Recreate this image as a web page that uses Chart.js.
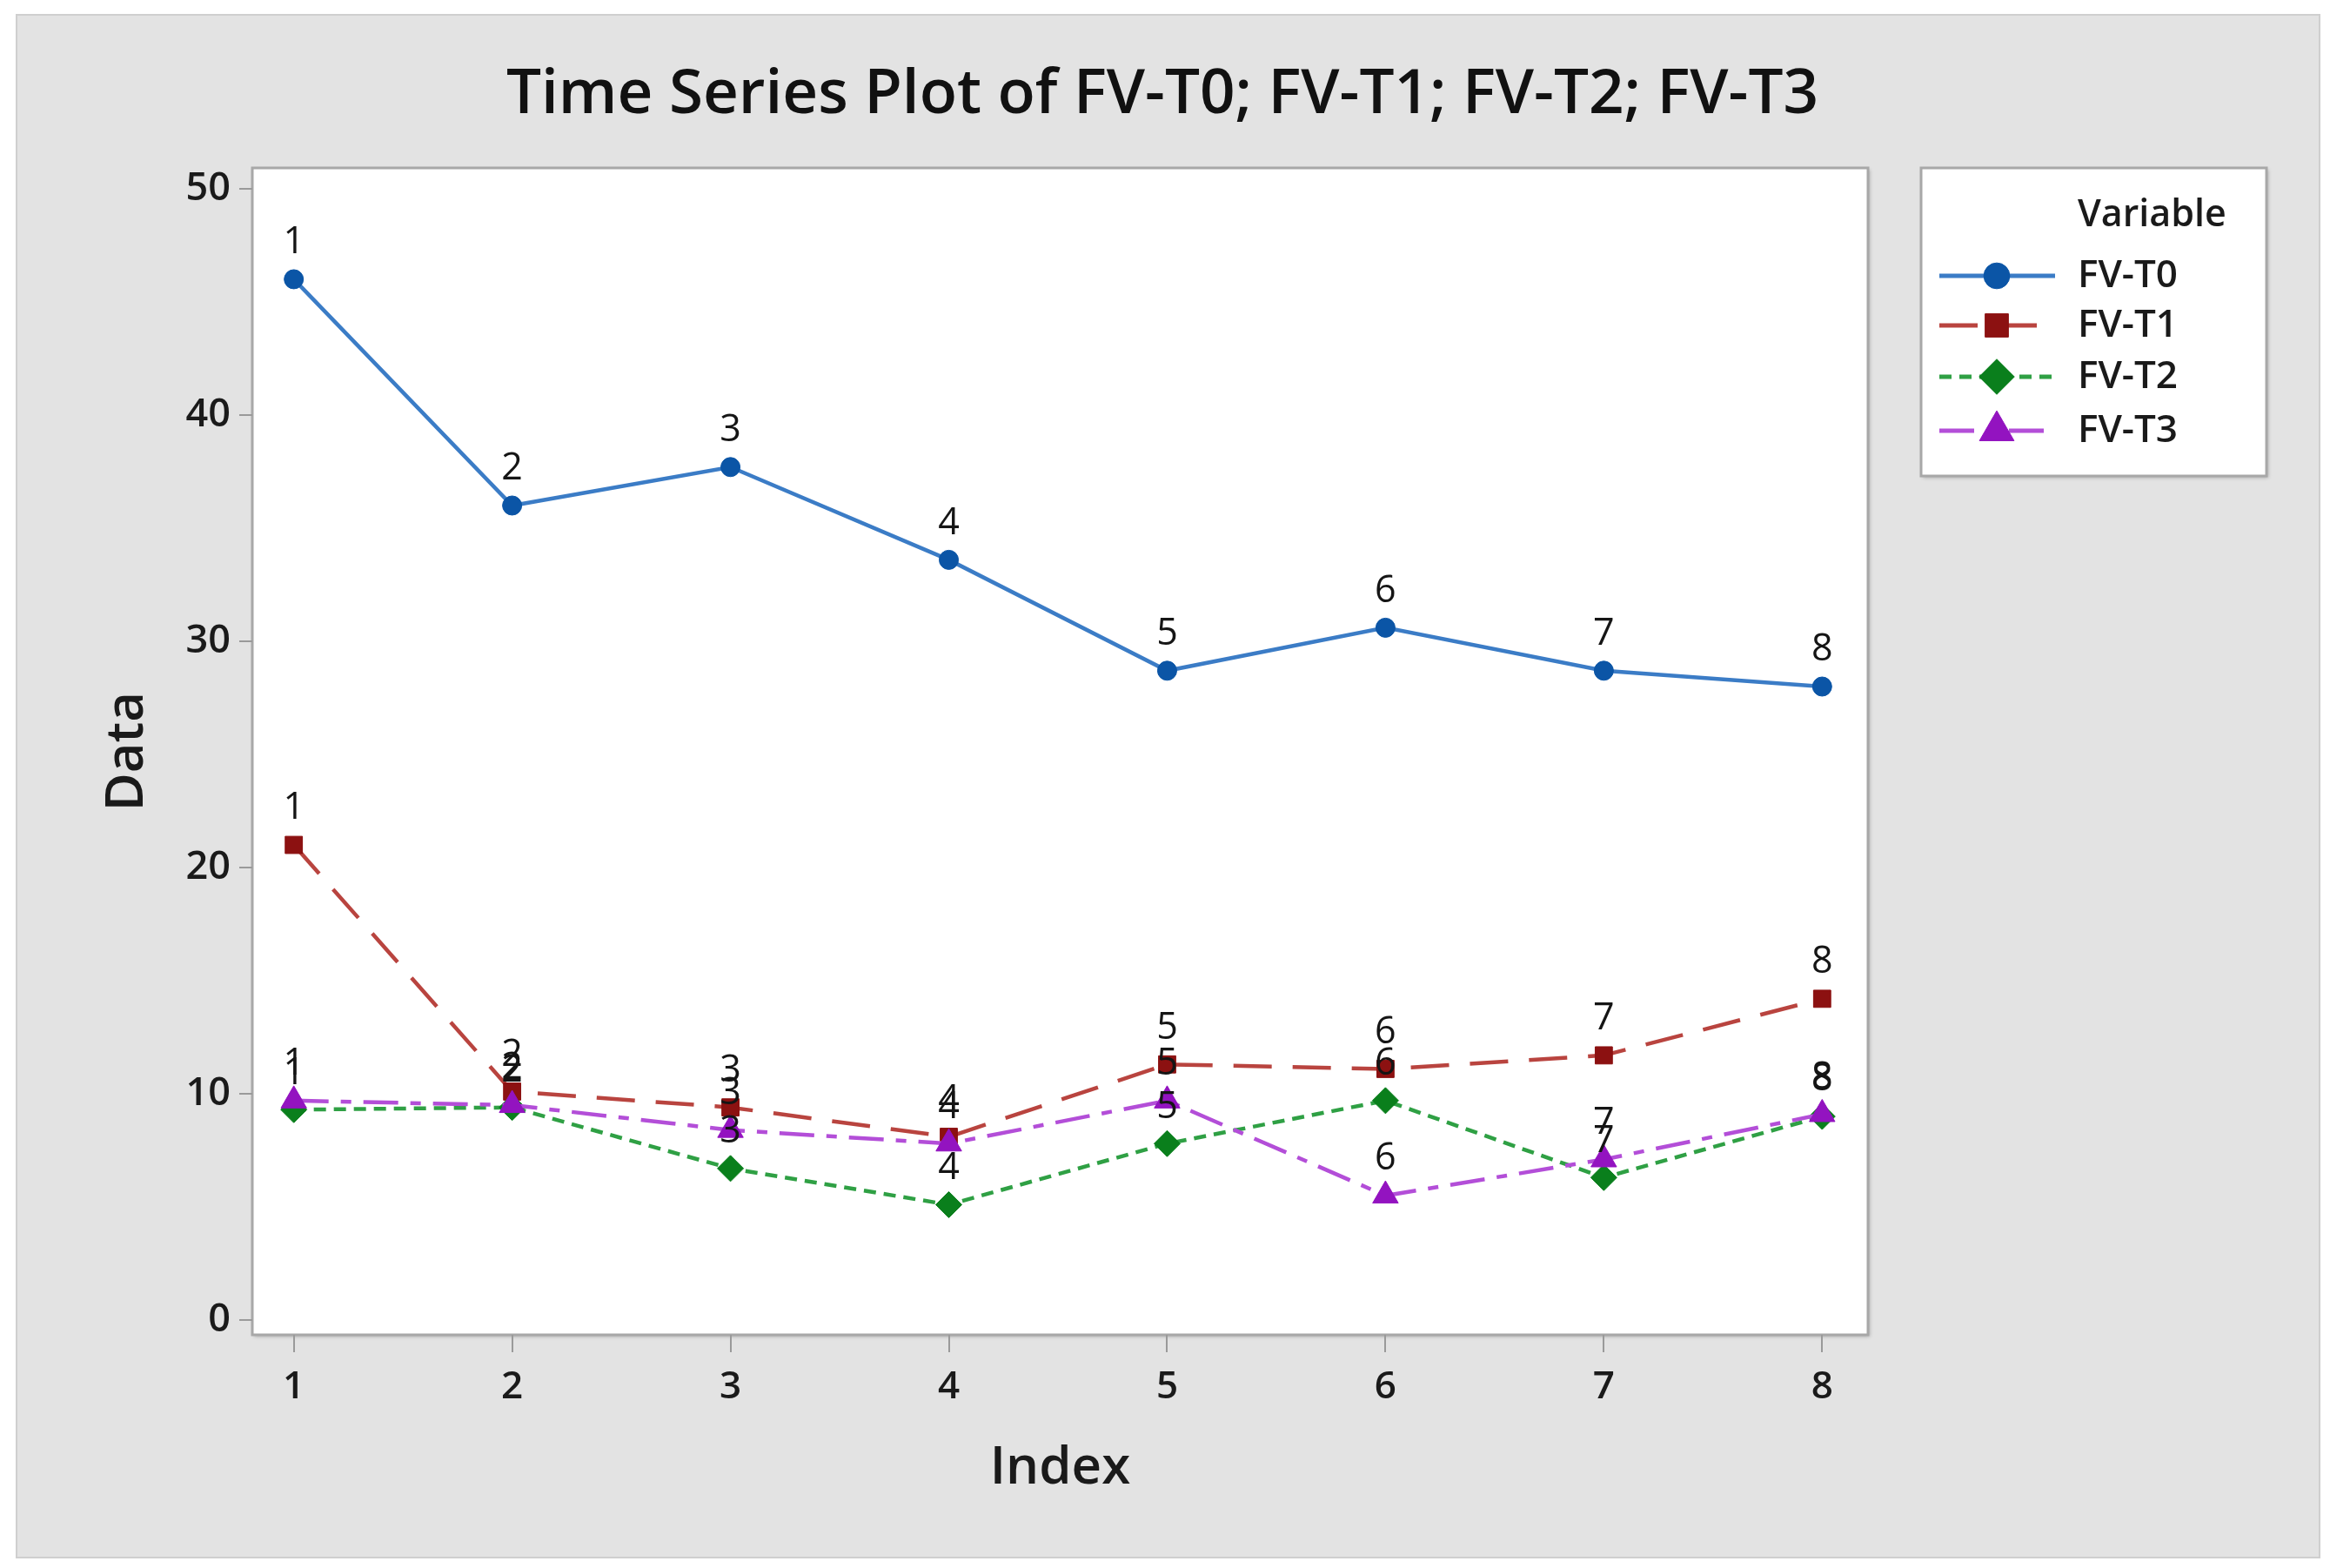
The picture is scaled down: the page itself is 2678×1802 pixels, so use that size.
<!DOCTYPE html>
<html>
<head>
<meta charset="utf-8">
<script src="https://cdn.jsdelivr.net/npm/chart.js@4.4.1/dist/chart.umd.min.js"></script>
<style>
  html, body { margin: 0; padding: 0; background: #ffffff; }
  canvas { display: block; }
</style>
</head>
<body>
<canvas id="tsChart" width="2678" height="1802"></canvas>
<script>
// valores (indice 1..8)
const indices = [1, 2, 3, 4, 5, 6, 7, 8];
const fvT0 = [46.0, 36.0, 37.7, 33.6, 28.7, 30.6, 28.7, 28.0];
const fvT1 = [21.0, 10.1, 9.4, 8.1, 11.3, 11.1, 11.7, 14.2];
const fvT2 = [9.3, 9.4, 6.7, 5.1, 7.8, 9.7, 6.3, 9.0];
const fvT3 = [9.7, 9.5, 8.4, 7.8, 9.7, 5.5, 7.1, 9.1];
const nombres = ['FV-T0', 'FV-T1', 'FV-T2', 'FV-T3'];
const yTicks = [0, 10, 20, 30, 40, 50];

const FONT = '"Open Sans", "Noto Sans", sans-serif';

const estilos = [
    { line: '#3b7cc6', mark: '#0b55a6', style: 'circle',   radius: 11, dash: [] },
    { line: '#b9443f', mark: '#8c1111', style: 'rect',     radius: 14, dash: [44, 24] },
    { line: '#2fa044', mark: '#0a7f1c', style: 'rectRot',  radius: 15, dash: [14, 9] },
    { line: '#b34ed8', mark: '#9313c0', style: 'triangle', radius: 17, dash: [40, 14, 12, 14] }
];

const series = [fvT0, fvT1, fvT2, fvT3];
const datasets = series.map((vals, i) => ({
    label: nombres[i],
    data: vals.map((v, k) => ({ x: indices[k], y: v })),
    borderColor: estilos[i].line,
    borderWidth: 4.5,
    borderDash: estilos[i].dash,
    backgroundColor: estilos[i].mark,
    pointBackgroundColor: estilos[i].mark,
    pointBorderColor: estilos[i].mark,
    pointBorderWidth: 1,
    pointStyle: estilos[i].style,
    pointRadius: estilos[i].radius,
    tension: 0,
    order: 3 - i
}));

// fondo gris, area blanca, titulo, etiquetas de punto y leyenda
const decoracion = {
    id: 'decoracion',
    beforeDraw(chart) {
        const ctx = chart.ctx;
        const a = chart.chartArea;
        ctx.save();
        ctx.fillStyle = '#ffffff';
        ctx.fillRect(0, 0, chart.width, chart.height);
        ctx.fillStyle = '#e3e3e3';
        ctx.fillRect(19, 17, 2647, 1773);
        ctx.strokeStyle = '#cfcfcf';
        ctx.lineWidth = 2;
        ctx.strokeRect(19, 17, 2647, 1773);
        ctx.shadowColor = 'rgba(0,0,0,0.25)';
        ctx.shadowBlur = 4;
        ctx.shadowOffsetX = 2;
        ctx.shadowOffsetY = 2;
        ctx.fillStyle = '#ffffff';
        ctx.fillRect(a.left, a.top, a.right - a.left, a.bottom - a.top);
        ctx.shadowColor = 'transparent';
        ctx.strokeStyle = '#a8a8a8';
        ctx.lineWidth = 3;
        ctx.strokeRect(a.left, a.top, a.right - a.left, a.bottom - a.top);

        ctx.fillStyle = '#111111';
        ctx.font = '600 71px ' + FONT;
        ctx.textAlign = 'center';
        ctx.textBaseline = 'middle';
        ctx.fillText('Time Series Plot of FV-T0; FV-T1; FV-T2; FV-T3', 1336, 110);
        ctx.restore();
    },
    afterDatasetsDraw(chart) {
        const ctx = chart.ctx;
        ctx.save();
        ctx.fillStyle = '#151515';
        ctx.font = '400 43px ' + FONT;
        ctx.textAlign = 'center';
        ctx.textBaseline = 'middle';
        chart.data.datasets.forEach((ds, i) => {
            chart.getDatasetMeta(i).data.forEach((pt, k) => {
                ctx.fillText(String(indices[k]), pt.x, pt.y - 42);
            });
        });
        ctx.restore();

        // leyenda
        const bx = 2208, by = 193, bw = 397, bh = 354;
        ctx.save();
        ctx.shadowColor = 'rgba(0,0,0,0.25)';
        ctx.shadowBlur = 4;
        ctx.shadowOffsetX = 2;
        ctx.shadowOffsetY = 2;
        ctx.fillStyle = '#ffffff';
        ctx.fillRect(bx, by, bw, bh);
        ctx.shadowColor = 'transparent';
        ctx.strokeStyle = '#a8a8a8';
        ctx.lineWidth = 3;
        ctx.strokeRect(bx, by, bw, bh);

        ctx.fillStyle = '#1a1a1a';
        ctx.textAlign = 'left';
        ctx.textBaseline = 'middle';
        ctx.font = '600 43px ' + FONT;
        ctx.fillText('Variable', 2388, 248);
        const filas = [317, 374, 433, 495];
        chart.data.datasets.forEach((ds, i) => {
            const y = filas[i];
            ctx.strokeStyle = ds.borderColor;
            ctx.lineWidth = 5;
            ctx.setLineDash(ds.borderDash);
            ctx.beginPath();
            ctx.moveTo(2229, y);
            ctx.lineTo(2362, y);
            ctx.stroke();
            ctx.setLineDash([]);
            ctx.fillStyle = ds.pointBackgroundColor;
            ctx.strokeStyle = ds.pointBorderColor;
            ctx.lineWidth = 1;
            Chart.helpers.drawPoint(ctx, {
                pointStyle: ds.pointStyle, radius: ds.pointRadius * 1.35, rotation: 0, borderWidth: 1
            }, 2295, y);
            ctx.fillStyle = '#1a1a1a';
            ctx.font = '600 44px ' + FONT;
            ctx.fillText(ds.label, 2388, y);
        });
        ctx.restore();
    }
};

new Chart(document.getElementById('tsChart'), {
    type: 'line',
    data: { datasets },
    options: {
        responsive: false,
        devicePixelRatio: 1,
        animation: false,
        layout: { padding: { left: 0, top: 193, right: 531, bottom: 0 } },
        plugins: { legend: { display: false }, tooltip: { enabled: false } },
        scales: {
            x: {
                type: 'linear',
                min: 0.81,
                max: 8.21,
                afterFit(scale) { scale.height = 268; },
                afterBuildTicks(scale) { scale.ticks = indices.map(v => ({ value: v })); },
                grid: { drawOnChartArea: false, drawTicks: true, tickLength: 20, color: '#9a9a9a', lineWidth: 2 },
                border: { display: false },
                ticks: { color: '#1a1a1a', font: { family: FONT, size: 44, weight: '600' }, padding: 14 },
                title: { display: true, text: 'Index', color: '#1a1a1a', font: { family: FONT, size: 60, weight: '600' }, padding: { bottom: 78 } }
            },
            y: {
                type: 'linear',
                min: -0.65,
                max: 50.92,
                afterFit(scale) { scale.width = 290; },
                afterBuildTicks(scale) { scale.ticks = yTicks.map(v => ({ value: v })); },
                grid: { drawOnChartArea: false, drawTicks: true, tickLength: 15, color: '#9a9a9a', lineWidth: 2 },
                border: { display: false },
                ticks: { color: '#1a1a1a', font: { family: FONT, size: 45, weight: '600' }, padding: 10 },
                title: { display: true, text: 'Data', color: '#1a1a1a', font: { family: FONT, size: 60, weight: '600' }, padding: { top: 111 } }
            }
        }
    },
    plugins: [decoracion]
});
</script>
</body>
</html>
